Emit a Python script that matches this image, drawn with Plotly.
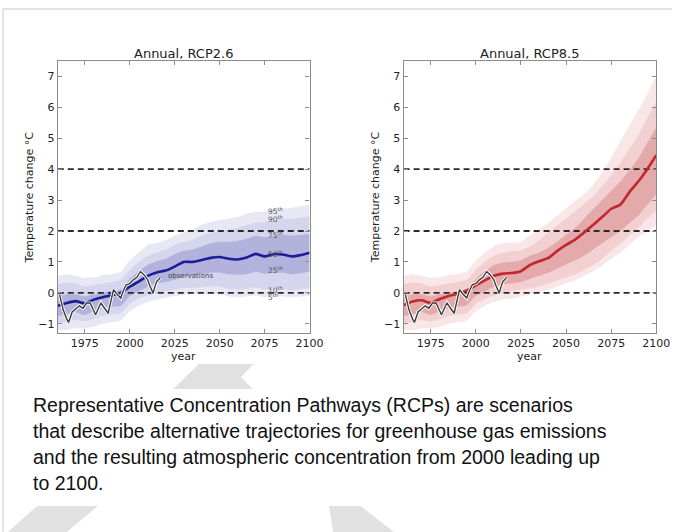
import plotly.graph_objects as go

# ---------------- data ----------------
YEARS = [1960, 1965, 1970, 1975, 1980, 1985, 1990, 1995, 2000, 2005, 2010, 2015, 2020,
         2025, 2030, 2035, 2040, 2045, 2050, 2055, 2060, 2065, 2070, 2075, 2080, 2085,
         2090, 2095, 2100]

RCP26_P50 = [-0.42, -0.33, -0.27, -0.34, -0.22, -0.14, -0.08, 0.0, 0.2, 0.36, 0.55, 0.66, 0.72,
             0.85, 1.0, 1.0, 1.06, 1.13, 1.16, 1.1, 1.08, 1.14, 1.26, 1.18, 1.25, 1.24, 1.18, 1.22, 1.3]
RCP26_P95 = [0.55, 0.6, 0.55, 0.48, 0.5, 0.58, 0.6, 0.68, 1.05, 1.3, 1.55, 1.62, 1.7,
             1.85, 1.95, 2.05, 2.2, 2.3, 2.35, 2.4, 2.45, 2.55, 2.62, 2.62, 2.7, 2.72, 2.75, 2.8, 2.85]
RCP26_P90 = [0.28, 0.33, 0.3, 0.2, 0.25, 0.3, 0.35, 0.42, 0.75, 1.0, 1.2, 1.3, 1.4,
             1.55, 1.65, 1.72, 1.85, 1.95, 2.0, 2.05, 2.1, 2.2, 2.27, 2.28, 2.33, 2.38, 2.4, 2.43, 2.48]
RCP26_P75 = [-0.12, -0.05, -0.05, -0.12, -0.05, 0.0, 0.05, 0.1, 0.45, 0.7, 0.9, 1.02, 1.1,
             1.25, 1.35, 1.4, 1.5, 1.6, 1.65, 1.65, 1.68, 1.75, 1.85, 1.8, 1.85, 1.88, 1.85, 1.87, 1.9]
RCP26_P25 = [-0.75, -0.7, -0.62, -0.72, -0.6, -0.5, -0.45, -0.42, -0.1, 0.05, 0.2, 0.3, 0.35,
             0.42, 0.53, 0.55, 0.6, 0.65, 0.66, 0.6, 0.58, 0.6, 0.68, 0.62, 0.65, 0.65, 0.6, 0.63, 0.68]
RCP26_P10 = [-0.97, -0.95, -0.88, -0.93, -0.85, -0.75, -0.7, -0.65, -0.35, -0.2, -0.08, -0.02, 0.05,
             0.1, 0.15, 0.15, 0.18, 0.2, 0.2, 0.12, 0.1, 0.12, 0.18, 0.1, 0.12, 0.12, 0.08, 0.12, 0.15]
RCP26_P5 = [-1.2, -1.2, -1.15, -1.15, -1.1, -1.0, -0.95, -0.9, -0.6, -0.42, -0.3, -0.22, -0.15,
            -0.1, -0.06, -0.05, -0.05, -0.05, -0.05, -0.12, -0.15, -0.12, -0.08, -0.15, -0.12, -0.12, -0.15, -0.12, -0.1]

RCP85_P50 = [-0.4, -0.28, -0.24, -0.33, -0.2, -0.1, -0.03, 0.08, 0.24, 0.4, 0.55, 0.62, 0.64,
             0.7, 0.9, 1.02, 1.12, 1.35, 1.55, 1.72, 1.95, 2.2, 2.45, 2.72, 2.85, 3.25, 3.6, 4.0, 4.45]
RCP85_P95 = [0.55, 0.6, 0.55, 0.48, 0.5, 0.58, 0.6, 0.68, 1.05, 1.3, 1.5, 1.6, 1.62,
             1.65, 1.85, 2.05, 2.25, 2.5, 2.73, 2.97, 3.2, 3.5, 3.9, 4.35, 4.9, 5.4, 5.9, 6.45, 7.0]
RCP85_P90 = [0.28, 0.33, 0.3, 0.2, 0.25, 0.3, 0.35, 0.42, 0.75, 1.0, 1.2, 1.3, 1.35,
             1.38, 1.5, 1.7, 1.95, 2.18, 2.4, 2.63, 2.88, 3.12, 3.45, 3.8, 4.2, 4.65, 5.1, 5.65, 6.2]
RCP85_P75 = [-0.12, -0.05, -0.05, -0.12, -0.05, 0.0, 0.05, 0.1, 0.45, 0.7, 0.9, 0.98, 1.0,
             1.05, 1.2, 1.3, 1.45, 1.65, 1.88, 2.1, 2.4, 2.7, 3.0, 3.3, 3.6, 3.95, 4.35, 4.85, 5.35]
RCP85_P25 = [-0.75, -0.7, -0.62, -0.72, -0.6, -0.5, -0.45, -0.4, -0.1, 0.05, 0.2, 0.28, 0.3,
             0.35, 0.45, 0.55, 0.65, 0.78, 0.92, 1.05, 1.2, 1.4, 1.6, 1.8, 2.0, 2.25, 2.5, 2.85, 3.2]
RCP85_P10 = [-0.97, -0.95, -0.88, -0.93, -0.85, -0.75, -0.7, -0.65, -0.35, -0.2, -0.08, 0.0, 0.05,
             0.1, 0.15, 0.2, 0.3, 0.4, 0.5, 0.6, 0.75, 0.9, 1.1, 1.35, 1.6, 1.85, 2.1, 2.4, 2.65]
RCP85_P5 = [-1.2, -1.2, -1.15, -1.15, -1.1, -1.0, -0.95, -0.9, -0.6, -0.42, -0.3, -0.22, -0.18,
            -0.12, -0.06, 0.0, 0.1, 0.2, 0.3, 0.4, 0.55, 0.7, 0.88, 1.1, 1.3, 1.55, 1.8, 2.0, 2.2]

OBS_YEARS = [1961, 1963, 1965, 1966, 1968, 1970, 1972, 1974, 1976, 1978, 1980, 1981, 1983,
             1984, 1986, 1988, 1990, 1991, 1993, 1995, 1996, 1998, 2000, 2002, 2004, 2006,
             2008, 2010, 2011, 2013, 2014, 2015, 2016, 2017]
OBS_VALUES = [-0.06, -0.55, -0.85, -0.96, -0.62, -0.52, -0.42, -0.5, -0.33, -0.33, -0.6, -0.71, -0.45,
              -0.33, -0.5, -0.66, -0.15, 0.1, -0.05, -0.17, 0.0, 0.26, 0.3, 0.42, 0.5, 0.69,
              0.58, 0.42, 0.25, -0.01, 0.2, 0.37, 0.42, 0.5]

THRESHOLDS = [0, 2, 4]
Y_TICKS = [-1, 0, 1, 2, 3, 4, 5, 6, 7]
X_TICKS = [1975, 2000, 2025, 2050, 2075, 2100]
PCT_LABELS = ["95", "90", "75", "50", "25", "10", "5"]
PCT_LABEL_Y = [2.66, 2.38, 1.88, 1.26, 0.74, 0.1, -0.14]

TITLES = ["Annual, RCP2.6", "Annual, RCP8.5"]
CAPTION = ["Representative Concentration Pathways (RCPs) are scenarios",
           "that describe alternative trajectories for greenhouse gas emissions",
           "and the resulting atmospheric concentration from 2000 leading up",
           "to 2100."]

# ---------------- layout helpers ----------------
W, H = 686, 532
def px(x):
    return x / W
def py(y):
    return 1 - y / H

FONT = "DejaVu Sans"
fig = go.Figure()

panels = [
    dict(xa="x", ya="y", dom=(59, 316),
         bands=[(RCP26_P5, RCP26_P95, "#e8e8f5"), (RCP26_P10, RCP26_P90, "#d5d5ee"),
                (RCP26_P25, RCP26_P75, "#b2b2dd")],
         med=RCP26_P50, medc="#1c1c96"),
    dict(xa="x2", ya="y2", dom=(412, 670),
         bands=[(RCP85_P5, RCP85_P95, "#f9e6e6"), (RCP85_P10, RCP85_P90, "#f2d0d1"),
                (RCP85_P25, RCP85_P75, "#e3a9ab")],
         med=RCP85_P50, medc="#c1272d"),
]

for p in panels:
    for lo, hi, col in p["bands"]:
        fig.add_trace(go.Scatter(x=YEARS, y=lo, xaxis=p["xa"], yaxis=p["ya"], mode="lines",
                                 line=dict(width=0, shape="spline", smoothing=0.5, color=col),
                                 showlegend=False, hoverinfo="skip"))
        fig.add_trace(go.Scatter(x=YEARS, y=hi, xaxis=p["xa"], yaxis=p["ya"], mode="lines",
                                 line=dict(width=0, shape="spline", smoothing=0.5, color=col),
                                 fill="tonexty", fillcolor=col,
                                 showlegend=False, hoverinfo="skip"))
    for t in THRESHOLDS:
        fig.add_trace(go.Scatter(x=[YEARS[0], YEARS[-1]], y=[t, t], xaxis=p["xa"], yaxis=p["ya"],
                                 mode="lines", line=dict(color="#2a2a2a", width=1.8, dash="6px,4px"),
                                 showlegend=False, hoverinfo="skip"))
    fig.add_trace(go.Scatter(x=YEARS, y=p["med"], xaxis=p["xa"], yaxis=p["ya"], mode="lines",
                             line=dict(color=p["medc"], width=2.6, shape="spline", smoothing=0.5),
                             showlegend=False))
    fig.add_trace(go.Scatter(x=OBS_YEARS, y=OBS_VALUES, xaxis=p["xa"], yaxis=p["ya"], mode="lines",
                             line=dict(color="white", width=3.2), showlegend=False, hoverinfo="skip"))
    fig.add_trace(go.Scatter(x=OBS_YEARS, y=OBS_VALUES, xaxis=p["xa"], yaxis=p["ya"], mode="lines",
                             line=dict(color="#3a3a3a", width=1.4), showlegend=False))

axis_common = dict(showline=True, linecolor="#8c8c8c", linewidth=1.3, mirror="allticks",
                   ticks="inside", ticklen=4, tickcolor="#8c8c8c", showgrid=False, zeroline=False,
                   tickfont=dict(family=FONT, size=11, color="#222"))

y_dom = (py(333), py(61))
layout = dict(
    width=W, height=H, margin=dict(l=0, r=0, t=0, b=0),
    paper_bgcolor="white", plot_bgcolor="rgba(0,0,0,0)",
    showlegend=False,
)
for i, p in enumerate(panels):
    sfx = "" if i == 0 else "2"
    layout["xaxis" + sfx] = dict(axis_common, domain=[px(p["dom"][0]), px(p["dom"][1])],
                                 range=[1960, 2100], tickvals=X_TICKS, anchor="y" + sfx)
    layout["yaxis" + sfx] = dict(axis_common, domain=list(y_dom), range=[-1.3, 7.5],
                                 tickvals=Y_TICKS, anchor="x" + sfx)
fig.update_layout(**layout)

annotations = []
shapes = []
def ann(text, x, y, size, color="#222", family=FONT, xanchor="center", angle=0, xref="paper", yref="paper"):
    annotations.append(dict(text=text, x=x, y=y, xref=xref, yref=yref, xanchor=xanchor,
                            yanchor="middle", textangle=angle, showarrow=False,
                            font=dict(family=family, size=size, color=color)))

for i, p in enumerate(panels):
    cx = (p["dom"][0] + p["dom"][1]) / 2
    ann(TITLES[i], px(cx), py(53), 13)
    ann("year", px(cx), py(356), 11)
    ann("Temperature change °C", px(p["dom"][0] - 29), py(197), 11, angle=-90)

# percentile labels and observations label (left panel)
for lab, yv in zip(PCT_LABELS, PCT_LABEL_Y):
    ann(lab + "<sup>th</sup>", 2076, yv, 7.5, color="#555", xanchor="left", xref="x", yref="y")
ann("observations", 2020, 0.56, 7, color="#444", xanchor="left", xref="x", yref="y")

# caption
for k, line in enumerate(CAPTION):
    ann(line, px(32), py(405 + 26 * k), 19.5, color="#111", family="Liberation Sans", xanchor="left")

# page frame
shapes.append(dict(type="line", xref="paper", yref="paper", x0=px(3), x1=1, y0=py(9), y1=py(9),
                   line=dict(color="#dadada", width=1.5)))
shapes.append(dict(type="line", xref="paper", yref="paper", x0=px(3), x1=px(3), y0=py(9), y1=0,
                   line=dict(color="#dadada", width=1.5)))

# watermark chevrons
def poly(pts):
    d = "M " + " L ".join(f"{px(x)},{py(y)}" for x, y in pts) + " Z"
    return dict(type="path", path=d, xref="paper", yref="paper", fillcolor="#e1e1e1",
                line=dict(width=0), layer="below")

shapes.append(poly([(203, 364), (259, 364), (246, 377), (258, 389), (177, 389)]))
shapes.append(poly([(38, 506), (100, 506), (68, 532), (8, 532)]))
shapes.append(poly([(336, 506), (368, 506), (402, 532), (340, 532)]))

fig.update_layout(annotations=annotations, shapes=shapes)
fig.write_html("out.html")
